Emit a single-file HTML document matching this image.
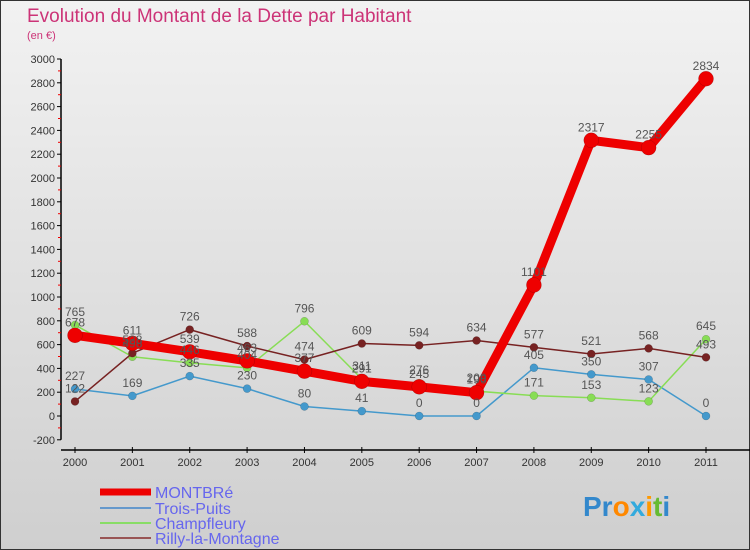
<!DOCTYPE html>
<html><head><meta charset="utf-8"><style>
body{margin:0;width:750px;height:550px;overflow:hidden}
svg{display:block;font-family:"Liberation Sans","DejaVu Sans",sans-serif}
</style></head><body>
<svg width="750" height="550">
<defs><linearGradient id="bg" x1="0" y1="0" x2="0" y2="1"><stop offset="0" stop-color="#f2f2f2"/><stop offset="1" stop-color="#cfcfcf"/></linearGradient></defs>
<rect x="0.5" y="0.5" width="749" height="549" fill="url(#bg)" stroke="#333"/>
<text x="27" y="22" font-size="19" fill="#cc3377">Evolution du Montant de la Dette par Habitant</text>
<text x="27" y="39" font-size="11" fill="#cc3377">(en €)</text>
<g id="axes"></g><g id="series"></g><g id="labels"></g>
<g font-size="16" fill="#6666ee">
<line x1="100" y1="492" x2="151" y2="492" stroke="#ee0000" stroke-width="7"/>
<text x="155" y="498">MONTBRé</text>
<line x1="100" y1="508" x2="151" y2="508" stroke="#6699cc" stroke-width="2"/>
<text x="155" y="514">Trois-Puits</text>
<line x1="100" y1="523" x2="151" y2="523" stroke="#88dd66" stroke-width="2"/>
<text x="155" y="529">Champfleury</text>
<line x1="100" y1="538" x2="151" y2="538" stroke="#995555" stroke-width="2"/>
<text x="155" y="544">Rilly-la-Montagne</text>
</g>
<text x="583" y="516" font-size="28" font-weight="bold"><tspan fill="#3388cc">Pr</tspan><tspan fill="#ff8800">o</tspan><tspan fill="#33aadd">x</tspan><tspan fill="#ff9900">i</tspan><tspan fill="#66bb33">t</tspan><tspan fill="#3388cc">i</tspan></text>
</svg>
<script>
const years=[2000,2001,2002,2003,2004,2005,2006,2007,2008,2009,2010,2011];
const yTicks=[-200,0,200,400,600,800,1000,1200,1400,1600,1800,2000,2200,2400,2600,2800,3000];
const montbre=[678,611,539,463,377,291,245,196,1101,2317,2255,2834];
const troisPuits=[227,169,335,230,80,41,0,0,405,350,307,0];
const champfleury=[765,498,446,404,796,311,276,209,171,153,123,645];
const rilly=[122,528,726,588,474,609,594,634,577,521,568,493];
const NS="http://www.w3.org/2000/svg";
function X(i){return 75+i*(706-75)/11;}
function Y(v){return 416-v*0.119;}
function mk(tag,attrs,parent){const e=document.createElementNS(NS,tag);for(const k in attrs)e.setAttribute(k,attrs[k]);parent.appendChild(e);return e;}
const ax=document.getElementById('axes');
let l=mk('line',{x1:61,y1:Y(3000),x2:61,y2:Y(-200),stroke:'#000','stroke-width':1.5},ax);


yTicks.forEach((t,i)=>{
 let tk=mk('line',{x1:57,y1:Y(t),x2:61,y2:Y(t),stroke:'#000'},ax);
 
 
 if(i<yTicks.length-1){let m=mk('line',{x1:58,y1:Y(t+100),x2:61,y2:Y(t+100),stroke:'#e00'},ax);
 
 }
 let tx=mk('text',{x:55,y:Y(t)+4,'text-anchor':'end','font-size':11,fill:'#333'},ax);tx.textContent=t;
 
 
});
l=mk('line',{x1:61,y1:450,x2:750,y2:450,stroke:'#000','stroke-width':1.5},ax);


years.forEach((yr,i)=>{
 let tk=mk('line',{x1:X(i),y1:447,x2:X(i),y2:453,stroke:'#000'},ax);
 
 
 let tx=mk('text',{x:X(i),y:466,'text-anchor':'middle','font-size':11,fill:'#333'},ax);tx.textContent=yr;
 
 
});
const sg=document.getElementById('series'),lg=document.getElementById('labels');
function draw(data,color,w,r,name){
 const g=mk('g',{},sg);
 
 
 const p=mk('polyline',{points:data.map((v,i)=>X(i)+','+Y(v)).join(' '),fill:'none',stroke:color,'stroke-width':w,'stroke-linejoin':'round'},g);
 
 
 data.forEach((v,i)=>{
  const c=mk('circle',{cx:X(i),cy:Y(v),r:r,fill:color,stroke:'rgba(0,0,0,0.25)','stroke-width':0.5},g);
  
  
  const t=mk('text',{x:X(i),y:Y(v)-9,'text-anchor':'middle','font-size':12,fill:'#555'},lg);t.textContent=v;
  
  
 });
}
draw(troisPuits,'#4499cc',1.5,4,'trois-puits');
draw(champfleury,'#88dd55',1.5,4,'champfleury');
draw(rilly,'#772222',1.5,4,'rilly');
draw(montbre,'#ee0000',9,7.5,'montbre');
</script>
</body></html>
